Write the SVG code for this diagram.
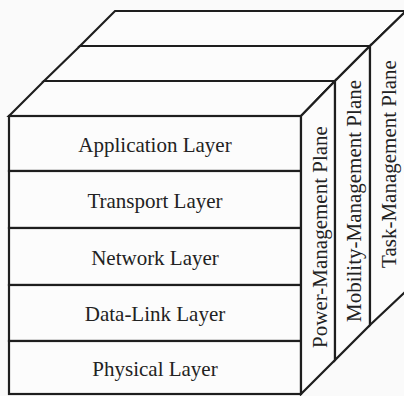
<svg xmlns="http://www.w3.org/2000/svg" width="404" height="396" viewBox="0 0 404 396">
<style>
.f{fill:#fcfcfc;stroke:#1e1e1e;stroke-width:2.2;stroke-linejoin:miter}
.t{font-family:"Liberation Serif","Times New Roman",serif;font-size:21px;fill:#222}
.m{text-anchor:middle}
</style>
<rect x="0" y="0" width="404" height="396" fill="#fafafa"/>
<g id="top-face">
<polygon class="f" points="9,116 44,81 335,81 301,116"/>
<polygon class="f" points="44,81 80,46 370,46 335,81"/>
<polygon class="f" points="80,46 115,11 406,11 370,46"/>
</g>
<g id="application-layer">
<rect class="f" x="9" y="116" width="292" height="55"/>
<text class="t m" x="155" y="152">Application Layer</text>
</g>
<g id="transport-layer">
<rect class="f" x="9" y="171" width="292" height="57"/>
<text class="t m" x="155" y="208">Transport Layer</text>
</g>
<g id="network-layer">
<rect class="f" x="9" y="228" width="292" height="57"/>
<text class="t m" x="155" y="265">Network Layer</text>
</g>
<g id="data-link-layer">
<rect class="f" x="9" y="285" width="292" height="56"/>
<text class="t m" x="155" y="321">Data-Link Layer</text>
</g>
<g id="physical-layer">
<rect class="f" x="9" y="341" width="292" height="53"/>
<text class="t m" x="155" y="376">Physical Layer</text>
</g>
<g id="power-management-plane">
<polygon class="f" points="301,116 335,81 335,360 301,394"/>
<text class="t m" transform="translate(327,237) rotate(-90)">Power-Management Plane</text>
</g>
<g id="mobility-management-plane">
<polygon class="f" points="335,81 370,46 370,325 335,360"/>
<text class="t m" transform="translate(361,201) rotate(-90)">Mobility-Management Plane</text>
</g>
<g id="task-management-plane">
<polygon class="f" points="370,46 406,11 406,291 370,325"/>
<text class="t m" transform="translate(396,164) rotate(-90)">Task-Management Plane</text>
</g>
<g id="connectors"></g>
</svg>
